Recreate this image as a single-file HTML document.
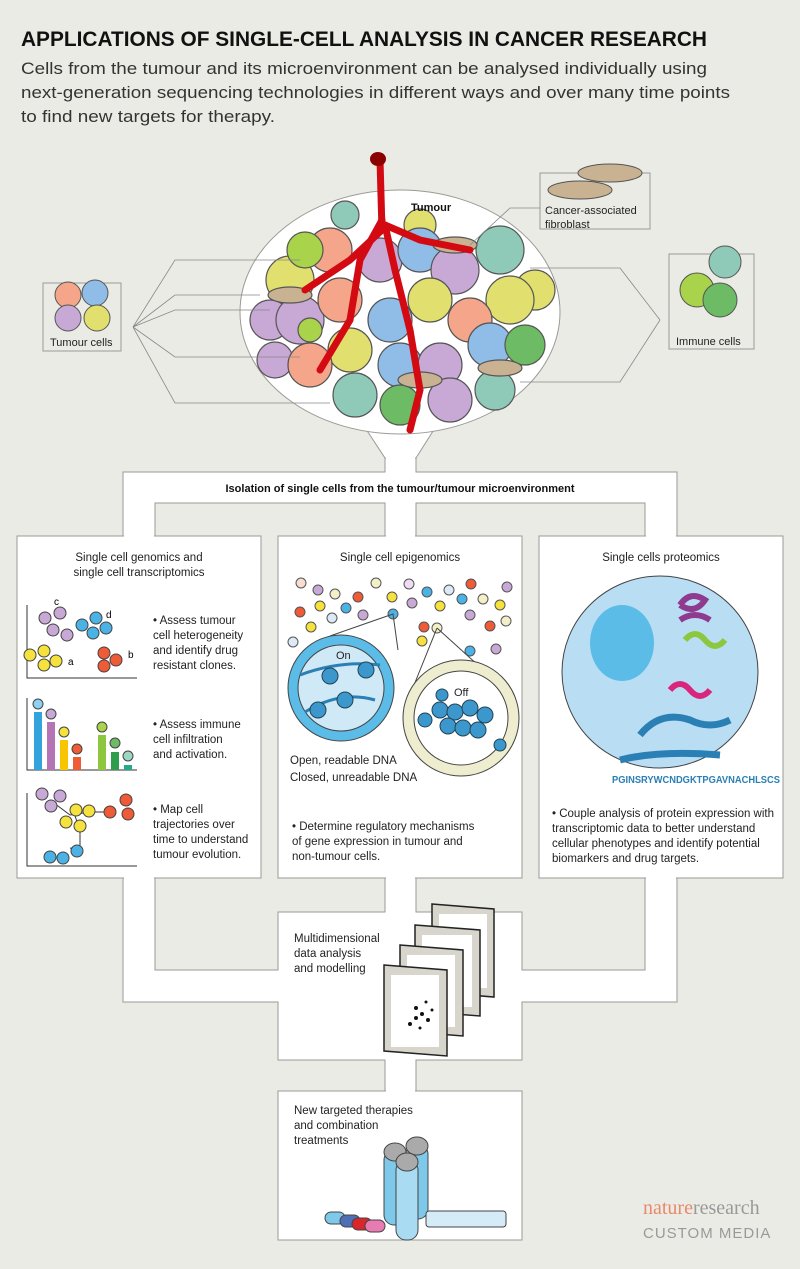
<!DOCTYPE html>
<html><head><meta charset="utf-8"><style>
html,body{margin:0;padding:0;background:#ebebe6;}
svg{display:block;font-family:"Liberation Sans",sans-serif;}
</style></head><body>
<svg width="800" height="1269" viewBox="0 0 800 1269" xmlns="http://www.w3.org/2000/svg">
<rect width="800" height="1269" fill="#ebebe6"/>
<text x="21" y="46" font-size="21" font-weight="bold" fill="#111" textLength="686" lengthAdjust="spacingAndGlyphs">APPLICATIONS OF SINGLE-CELL ANALYSIS IN CANCER RESEARCH</text>
<g font-size="17" fill="#333">
<text x="21" y="74" textLength="686" lengthAdjust="spacingAndGlyphs">Cells from the tumour and its microenvironment can be analysed individually using</text>
<text x="21" y="98" textLength="709" lengthAdjust="spacingAndGlyphs">next-generation sequencing technologies in different ways and over many time points</text>
<text x="21" y="122" textLength="254" lengthAdjust="spacingAndGlyphs">to find new targets for therapy.</text>
</g>

<g fill="#fff" stroke="#9a9a96" stroke-width="1">
<path d="M385 455 L385 472 L123 472 L123 536 L155 536 L155 503 L385 503 L385 536 L416 536 L416 503 L645 503 L645 536 L677 536 L677 472 L416 472 L416 455 Z"/>
<path d="M123 878 L123 1002 L278 1002 L278 1060 L385 1060 L385 1091 L416 1091 L416 1060 L522 1060 L522 1002 L677 1002 L677 878 L645 878 L645 970 L522 970 L522 912 L416 912 L416 878 L385 878 L385 912 L278 912 L278 970 L155 970 L155 878 Z"/>
<rect x="17" y="536" width="244" height="342"/>
<rect x="278" y="536" width="244" height="342"/>
<rect x="539" y="536" width="244" height="342"/>
<rect x="278" y="1091" width="244" height="149"/>
</g>
<rect x="386" y="500" width="29" height="6" fill="#fff"/>
<rect x="386" y="875" width="29" height="40" fill="#fff"/>
<rect x="386" y="1057" width="29" height="37" fill="#fff"/>
<rect x="124" y="875" width="30" height="5" fill="#fff"/>
<rect x="646" y="875" width="30" height="5" fill="#fff"/>
<rect x="124" y="533" width="30" height="5" fill="#fff"/>
<rect x="646" y="533" width="30" height="5" fill="#fff"/>
<rect x="386" y="533" width="29" height="5" fill="#fff"/>
<rect x="275" y="971" width="6" height="30" fill="#fff"/>
<rect x="519" y="971" width="6" height="30" fill="#fff"/>

<path d="M360 420 L385 458 L416 458 L440 420 Z" fill="#fff" stroke="#9a9a96"/>
<ellipse cx="400" cy="312" rx="160" ry="122" fill="#fff" stroke="#9a9a96"/>
<rect x="386" y="440" width="29" height="20" fill="#fff"/>
<g stroke="#555" stroke-width="1.2">
<circle cx="345" cy="215" r="14" fill="#8fc9b8"/>
<circle cx="420" cy="225" r="16" fill="#e1e06f"/>
<circle cx="290" cy="280" r="24" fill="#e1e06f"/>
<circle cx="330" cy="250" r="22" fill="#f4a58a"/>
<circle cx="270" cy="320" r="20" fill="#c8a8d4"/>
<circle cx="300" cy="320" r="24" fill="#c8a8d4"/>
<circle cx="340" cy="300" r="22" fill="#f4a58a"/>
<circle cx="380" cy="260" r="22" fill="#c8a8d4"/>
<circle cx="420" cy="250" r="22" fill="#8fbde8"/>
<circle cx="455" cy="270" r="24" fill="#c8a8d4"/>
<circle cx="500" cy="250" r="24" fill="#8fc9b8"/>
<circle cx="535" cy="290" r="20" fill="#e1e06f"/>
<circle cx="510" cy="300" r="24" fill="#e1e06f"/>
<circle cx="470" cy="320" r="22" fill="#f4a58a"/>
<circle cx="430" cy="300" r="22" fill="#e1e06f"/>
<circle cx="390" cy="320" r="22" fill="#8fbde8"/>
<circle cx="350" cy="350" r="22" fill="#e1e06f"/>
<circle cx="275" cy="360" r="18" fill="#c8a8d4"/>
<circle cx="310" cy="365" r="22" fill="#f4a58a"/>
<circle cx="400" cy="365" r="22" fill="#8fbde8"/>
<circle cx="440" cy="365" r="22" fill="#c8a8d4"/>
<circle cx="490" cy="345" r="22" fill="#8fbde8"/>
<circle cx="525" cy="345" r="20" fill="#6dbb65"/>
<circle cx="355" cy="395" r="22" fill="#8fc9b8"/>
<circle cx="400" cy="405" r="20" fill="#6dbb65"/>
<circle cx="450" cy="400" r="22" fill="#c8a8d4"/>
<circle cx="495" cy="390" r="20" fill="#8fc9b8"/>
<circle cx="305" cy="250" r="18" fill="#a8d34a"/>
<circle cx="310" cy="330" r="12" fill="#a8d34a"/>
<ellipse cx="420" cy="380" rx="22" ry="8" fill="#c9b291"/>
<ellipse cx="455" cy="245" rx="22" ry="8" fill="#c9b291"/>
<ellipse cx="290" cy="295" rx="22" ry="8" fill="#c9b291"/>
<ellipse cx="500" cy="368" rx="22" ry="8" fill="#c9b291"/>
</g>
<g fill="none" stroke="#d30a12" stroke-width="7" stroke-linecap="round">
<path d="M380 160 L382 230 L350 260 L305 290"/>
<path d="M382 220 L360 260 L350 320 L320 370"/>
<path d="M385 225 L395 270 L410 330 L420 390 L410 430"/>
<path d="M385 225 L420 240 L470 250"/>
</g>
<ellipse cx="378" cy="159" rx="8" ry="7" fill="#8b0000"/>
<text x="411" y="211" font-size="11" font-weight="bold" fill="#111">Tumour</text>

<rect x="43" y="283" width="78" height="68" fill="none" stroke="#9a9a96"/>
<g stroke="#555"><circle cx="68" cy="295" r="13" fill="#f4a58a"/><circle cx="95" cy="293" r="13" fill="#8fbde8"/><circle cx="68" cy="318" r="13" fill="#c8a8d4"/><circle cx="97" cy="318" r="13" fill="#e1e06f"/></g>
<text x="50" y="346" font-size="11" fill="#222">Tumour cells</text>
<path d="M133 327 L175 260 L300 260 M133 327 L175 295 L260 295 M133 327 L175 310 L270 310 M133 327 L175 357 L300 357 M133 327 L175 403 L330 403" fill="none" stroke="#888" stroke-width="0.8"/>
<rect x="540" y="173" width="110" height="56" fill="none" stroke="#9a9a96"/>
<ellipse cx="580" cy="190" rx="32" ry="9" fill="#c9b291" stroke="#555"/>
<ellipse cx="610" cy="173" rx="32" ry="9" fill="#c9b291" stroke="#555"/>
<text x="545" y="214" font-size="11" fill="#222">Cancer-associated</text>
<text x="545" y="228" font-size="11" fill="#222">fibroblast</text>
<path d="M540 208 L510 208 L470 245" fill="none" stroke="#888" stroke-width="0.8"/>
<rect x="669" y="254" width="85" height="95" fill="none" stroke="#9a9a96"/>
<g stroke="#555"><circle cx="725" cy="262" r="16" fill="#8fc9b8"/><circle cx="697" cy="290" r="17" fill="#a8d34a"/><circle cx="720" cy="300" r="17" fill="#6dbb65"/></g>
<rect x="672" y="330" width="80" height="17" fill="#ebebe6"/>
<text x="676" y="345" font-size="11" fill="#222">Immune cells</text>
<path d="M660 320 L620 268 L530 268 M660 320 L620 382 L520 382" fill="none" stroke="#888" stroke-width="0.8"/>

<text x="400" y="492" font-size="11" font-weight="bold" fill="#111" text-anchor="middle">Isolation of single cells from the tumour/tumour microenvironment</text>

<g font-size="11.5" fill="#222">
<text x="139" y="561" text-anchor="middle">Single cell genomics and</text>
<text x="139" y="576" text-anchor="middle">single cell transcriptomics</text>
<text x="153" y="624">• Assess tumour</text><text x="153" y="639">cell heterogeneity</text><text x="153" y="654">and identify drug</text><text x="153" y="669">resistant clones.</text>
<text x="153" y="728">• Assess immune</text><text x="153" y="743">cell infiltration</text><text x="153" y="758">and activation.</text>
<text x="153" y="813">• Map cell</text><text x="153" y="828">trajectories over</text><text x="153" y="843">time to understand</text><text x="153" y="858">tumour evolution.</text>
</g>
<g stroke="#333" fill="none"><path d="M27 605 L27 678 L137 678"/><path d="M27 698 L27 770 L137 770"/><path d="M27 793 L27 866 L137 866"/></g>
<g stroke="#444">
<circle cx="45" cy="618" r="6" fill="#c8a8d4"/><circle cx="60" cy="613" r="6" fill="#c8a8d4"/><circle cx="53" cy="630" r="6" fill="#c8a8d4"/><circle cx="67" cy="635" r="6" fill="#c8a8d4"/>
<circle cx="82" cy="625" r="6" fill="#4bb2e6"/><circle cx="96" cy="618" r="6" fill="#4bb2e6"/><circle cx="93" cy="633" r="6" fill="#4bb2e6"/><circle cx="106" cy="628" r="6" fill="#4bb2e6"/>
<circle cx="30" cy="655" r="6" fill="#f5e23c"/><circle cx="44" cy="651" r="6" fill="#f5e23c"/><circle cx="44" cy="665" r="6" fill="#f5e23c"/><circle cx="56" cy="661" r="6" fill="#f5e23c"/>
<circle cx="104" cy="653" r="6" fill="#ef5a37"/><circle cx="104" cy="666" r="6" fill="#ef5a37"/><circle cx="116" cy="660" r="6" fill="#ef5a37"/>
</g>
<text x="54" y="605" font-size="10">c</text><text x="106" y="618" font-size="10">d</text><text x="68" y="665" font-size="10">a</text><text x="128" y="658" font-size="10">b</text>
<g stroke="none"><rect x="34" y="712" width="8" height="58" fill="#33a3dc"/><rect x="47" y="722" width="8" height="48" fill="#b574b5"/><rect x="60" y="740" width="8" height="30" fill="#f7c600"/><rect x="73" y="757" width="8" height="13" fill="#ef5a37"/><rect x="98" y="735" width="8" height="35" fill="#8dc63f"/><rect x="111" y="752" width="8" height="18" fill="#2e9e4c"/><rect x="124" y="765" width="8" height="5" fill="#25a98a"/></g>
<g stroke="#444"><circle cx="38" cy="704" r="5" fill="#8fd0f0"/><circle cx="51" cy="714" r="5" fill="#c8a8d4"/><circle cx="64" cy="732" r="5" fill="#f5e23c"/><circle cx="77" cy="749" r="5" fill="#ef5a37"/><circle cx="102" cy="727" r="5" fill="#a8d34a"/><circle cx="115" cy="743" r="5" fill="#6dbb65"/><circle cx="128" cy="756" r="5" fill="#9dd6c4"/></g>
<path d="M50 800 L70 815 L90 812 L110 812 M75 816 L80 830 L80 850 L70 848" stroke="#333" fill="none"/>
<g stroke="#444"><circle cx="42" cy="794" r="6" fill="#c8a8d4"/><circle cx="60" cy="796" r="6" fill="#c8a8d4"/><circle cx="51" cy="806" r="6" fill="#c8a8d4"/><circle cx="76" cy="810" r="6" fill="#f5e23c"/><circle cx="89" cy="811" r="6" fill="#f5e23c"/><circle cx="66" cy="822" r="6" fill="#f5e23c"/><circle cx="80" cy="826" r="6" fill="#f5e23c"/><circle cx="110" cy="812" r="6" fill="#ef5a37"/><circle cx="126" cy="800" r="6" fill="#ef5a37"/><circle cx="128" cy="814" r="6" fill="#ef5a37"/><circle cx="50" cy="857" r="6" fill="#4bb2e6"/><circle cx="63" cy="858" r="6" fill="#4bb2e6"/><circle cx="77" cy="851" r="6" fill="#4bb2e6"/></g>

<text x="400" y="561" font-size="11.5" text-anchor="middle" fill="#222">Single cell epigenomics</text>
<g stroke="#555">
<circle cx="301" cy="583" r="5" fill="#f8ddd0"/><circle cx="318" cy="590" r="5" fill="#c8a8d4"/><circle cx="335" cy="594" r="5" fill="#f3efc8"/><circle cx="358" cy="597" r="5" fill="#ef5a37"/><circle cx="376" cy="583" r="5" fill="#f3efc8"/><circle cx="409" cy="584" r="5" fill="#eedcf0"/><circle cx="427" cy="592" r="5" fill="#4bb2e6"/><circle cx="449" cy="590" r="5" fill="#dde9f5"/><circle cx="471" cy="584" r="5" fill="#ef5a37"/><circle cx="507" cy="587" r="5" fill="#c8a8d4"/>
<circle cx="300" cy="612" r="5" fill="#ef5a37"/><circle cx="320" cy="606" r="5" fill="#f5e23c"/><circle cx="346" cy="608" r="5" fill="#4bb2e6"/><circle cx="392" cy="597" r="5" fill="#f5e23c"/><circle cx="412" cy="603" r="5" fill="#c8a8d4"/><circle cx="440" cy="606" r="5" fill="#f5e23c"/><circle cx="462" cy="599" r="5" fill="#4bb2e6"/><circle cx="483" cy="599" r="5" fill="#f3efc8"/><circle cx="500" cy="605" r="5" fill="#f5e23c"/>
<circle cx="311" cy="627" r="5" fill="#f5e23c"/><circle cx="332" cy="618" r="5" fill="#dde9f5"/><circle cx="363" cy="615" r="5" fill="#c8a8d4"/><circle cx="393" cy="614" r="5" fill="#4bb2e6"/><circle cx="424" cy="627" r="5" fill="#ef5a37"/><circle cx="470" cy="615" r="5" fill="#c8a8d4"/><circle cx="490" cy="626" r="5" fill="#ef5a37"/><circle cx="506" cy="621" r="5" fill="#f3efc8"/>
<circle cx="293" cy="642" r="5" fill="#dde9f5"/><circle cx="422" cy="641" r="5" fill="#f5e23c"/><circle cx="437" cy="628" r="5" fill="#f3efc8"/><circle cx="470" cy="651" r="5" fill="#4bb2e6"/><circle cx="496" cy="649" r="5" fill="#c8a8d4"/>
</g>
<path d="M330 636 L393 614 L398 650 M437 628 L412 690 M437 628 L490 676" stroke="#444" fill="none"/>
<circle cx="341" cy="688" r="53" fill="#5bbce8" stroke="#444"/><circle cx="341" cy="688" r="43" fill="#cfe9f7" stroke="#444"/>
<circle cx="461" cy="718" r="58" fill="#efedd0" stroke="#444"/><circle cx="461" cy="718" r="47" fill="#fff" stroke="#444"/>
<path d="M300 675 Q340 660 380 665 M305 712 Q340 690 375 700" stroke="#2a7fb5" stroke-width="3" fill="none"/>
<g fill="#3b97cc" stroke="#245">
<circle cx="330" cy="676" r="8"/><circle cx="366" cy="670" r="8"/><circle cx="345" cy="700" r="8"/><circle cx="318" cy="710" r="8"/>
<circle cx="440" cy="710" r="8"/><circle cx="455" cy="712" r="8"/><circle cx="470" cy="708" r="8"/><circle cx="485" cy="715" r="8"/><circle cx="448" cy="726" r="8"/><circle cx="463" cy="728" r="8"/><circle cx="478" cy="730" r="8"/><circle cx="425" cy="720" r="7"/><circle cx="442" cy="695" r="6"/><circle cx="500" cy="745" r="6"/>
</g>
<text x="336" y="659" font-size="11" fill="#222">On</text>
<text x="454" y="696" font-size="11" fill="#222">Off</text>
<text x="290" y="764" font-size="11.5" fill="#222">Open, readable DNA</text>
<text x="290" y="781" font-size="11.5" fill="#222">Closed, unreadable DNA</text>
<g font-size="11.5" fill="#222"><text x="292" y="830">• Determine regulatory mechanisms</text><text x="292" y="845">of gene expression in tumour and</text><text x="292" y="860">non-tumour cells.</text></g>

<text x="661" y="561" font-size="11.5" text-anchor="middle" fill="#222">Single cells proteomics</text>
<ellipse cx="660" cy="672" rx="98" ry="96" fill="#b9def3" stroke="#444"/>
<ellipse cx="622" cy="643" rx="32" ry="38" fill="#5bbce8"/>
<path d="M680 605 q10 -15 25 -5 q-10 15 -25 5 M680 620 q15 -10 30 0" stroke="#8e3a8e" stroke-width="6" fill="none"/>
<path d="M685 640 q10 -12 20 0 q10 12 20 0" stroke="#8dc63f" stroke-width="6" fill="none"/>
<path d="M670 690 q10 -12 20 0 q10 12 20 0" stroke="#d9267c" stroke-width="6" fill="none"/>
<path d="M640 735 q20 -25 50 -15 q20 10 40 0 M620 760 q40 -10 100 -5" stroke="#2a7fb5" stroke-width="7" fill="none"/>
<text x="612" y="783" font-size="10" font-weight="bold" fill="#2a7fb5" textLength="168" lengthAdjust="spacingAndGlyphs">PGINSRYWCNDGKTPGAVNACHLSCS</text>
<g font-size="11.5" fill="#222"><text x="552" y="817">• Couple analysis of protein expression with</text><text x="552" y="832">transcriptomic data to better understand</text><text x="552" y="847">cellular phenotypes and identify potential</text><text x="552" y="862">biomarkers and drug targets.</text></g>

<g font-size="11.5" fill="#222"><text x="294" y="942">Multidimensional</text><text x="294" y="957">data analysis</text><text x="294" y="972">and modelling</text></g>
<g stroke="#222" stroke-width="1.5">
<polygon points="432,904 494,909 494,997 432,992" fill="#d8d6cc"/>
<rect x="439" y="914" width="48" height="74" fill="#fff" stroke="none"/>
<polygon points="415,925 480,930 480,1016 415,1011" fill="#d8d6cc"/>
<rect x="422" y="935" width="50" height="72" fill="#fff" stroke="none"/>
<polygon points="400,945 463,950 463,1036 400,1031" fill="#d8d6cc"/>
<rect x="407" y="955" width="48" height="72" fill="#fff" stroke="none"/>
<polygon points="384,965 447,970 447,1056 384,1051" fill="#d8d6cc"/>
<rect x="391" y="975" width="48" height="72" fill="#fff" stroke="none"/>
</g>
<g fill="#111"><circle cx="416" cy="1008" r="2"/><circle cx="422" cy="1014" r="2"/><circle cx="416" cy="1018" r="2"/><circle cx="428" cy="1020" r="2"/><circle cx="410" cy="1024" r="2"/><circle cx="420" cy="1028" r="1.5"/><circle cx="432" cy="1010" r="1.5"/><circle cx="426" cy="1002" r="1.5"/></g>
<g font-size="11.5" fill="#222"><text x="294" y="1114">New targeted therapies</text><text x="294" y="1129">and combination</text><text x="294" y="1144">treatments</text></g>
<g stroke="#444"><rect x="384" y="1150" width="22" height="75" rx="10" fill="#7ec8ea"/><rect x="406" y="1144" width="22" height="75" rx="10" fill="#7ec8ea"/><rect x="396" y="1160" width="22" height="80" rx="10" fill="#a9dcf2"/>
<ellipse cx="395" cy="1152" rx="11" ry="9" fill="#aaa"/><ellipse cx="417" cy="1146" rx="11" ry="9" fill="#aaa"/><ellipse cx="407" cy="1162" rx="11" ry="9" fill="#aaa"/>
<rect x="426" y="1211" width="80" height="16" rx="3" fill="#d6ebf8"/>
<rect x="325" y="1212" width="20" height="12" rx="6" fill="#7ec8ea"/><rect x="340" y="1215" width="20" height="12" rx="6" fill="#4f6fb5"/><rect x="352" y="1218" width="20" height="12" rx="6" fill="#d9262c"/><rect x="365" y="1220" width="20" height="12" rx="6" fill="#e87bb2"/></g>
<text x="643" y="1214" font-size="20" font-family="Liberation Serif,serif" fill="#e8896a">nature<tspan fill="#999">research</tspan></text>
<text x="643" y="1238" font-size="15" fill="#999" letter-spacing="1">CUSTOM MEDIA</text>
</svg>
</body></html>
